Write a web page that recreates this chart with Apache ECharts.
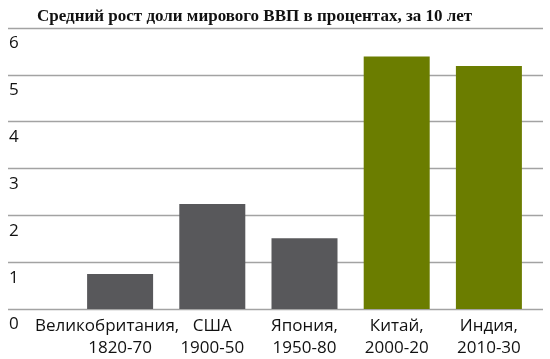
<!DOCTYPE html>
<html><head><meta charset="utf-8">
<script src="https://cdn.jsdelivr.net/npm/echarts@6/dist/echarts.min.js"></script>
<style>html,body{margin:0;padding:0;background:#fff}#c{width:550px;height:359px}</style>
</head><body><div id="c"></div>
<script>
const titleText = 'Средний рост доли мирового ВВП в процентах, за 10 лет';
const countries = ['Великобритания,', 'США', 'Япония,', 'Китай,', 'Индия,'];
const periods = ['1820-70', '1900-50', '1950-80', '2000-20', '2010-30'];
const values = [0.75, 2.24, 1.51, 5.39, 5.19];
const barColors = ['#58585b', '#58585b', '#58585b', '#6b7d00', '#6b7d00'];
const yTicks = [0, 1, 2, 3, 4, 5, 6];

const font = "'Open Sans', sans-serif";
const chart = echarts.init(document.getElementById('c'), null, {renderer: 'canvas'});
chart.setOption({
  animation: false,
  title: {text: titleText, left: 32, top: 3,
    textStyle: {fontFamily: "'Liberation Serif', serif", fontWeight: 'bold', fontSize: 17, color: '#111'}},
  grid: [
    {left: 8, right: 7, top: 28, bottom: 50, containLabel: false},
    {left: 74, right: 15, top: 28, bottom: 50, containLabel: false}
  ],
  xAxis: [
    {gridIndex: 0, type: 'value', show: false, min: 0, max: 1},
    {gridIndex: 1, type: 'category', data: countries.map((c, i) => c + '\n' + periods[i]),
      axisLine: {show: false}, axisTick: {show: false},
      axisLabel: {interval: 0, margin: 6, fontFamily: font, fontSize: 17, color: '#111', lineHeight: 22,
        formatter: function (v, i) {
          const parts = v.split('\n');
          if (i === 0) return '{a|' + parts[0] + '}\n' + parts[1];
          return v;
        },
        rich: {a: {fontFamily: font, fontSize: 17, color: '#111', lineHeight: 22, padding: [0, 26, 0, 0]}}
      }}
  ],
  yAxis: [
    {gridIndex: 0, type: 'value', min: yTicks[0], max: yTicks[yTicks.length - 1], interval: 1,
      axisLine: {show: false}, axisTick: {show: false},
      splitLine: {show: true, lineStyle: {color: '#a3a3a3', width: 1.3}},
      axisLabel: {inside: true, margin: 1, align: 'left', verticalAlign: 'top', padding: [7, 0, 0, 0],
        fontFamily: font, fontSize: 17, color: '#111'}},
    {gridIndex: 1, type: 'value', min: yTicks[0], max: yTicks[yTicks.length - 1], interval: 1, show: false,
      splitLine: {show: false}}
  ],
  series: [{
    type: 'bar', xAxisIndex: 1, yAxisIndex: 1, barWidth: 66,
    data: values.map((v, i) => ({value: v, itemStyle: {color: barColors[i]}}))
  }]
});
</script></body></html>
